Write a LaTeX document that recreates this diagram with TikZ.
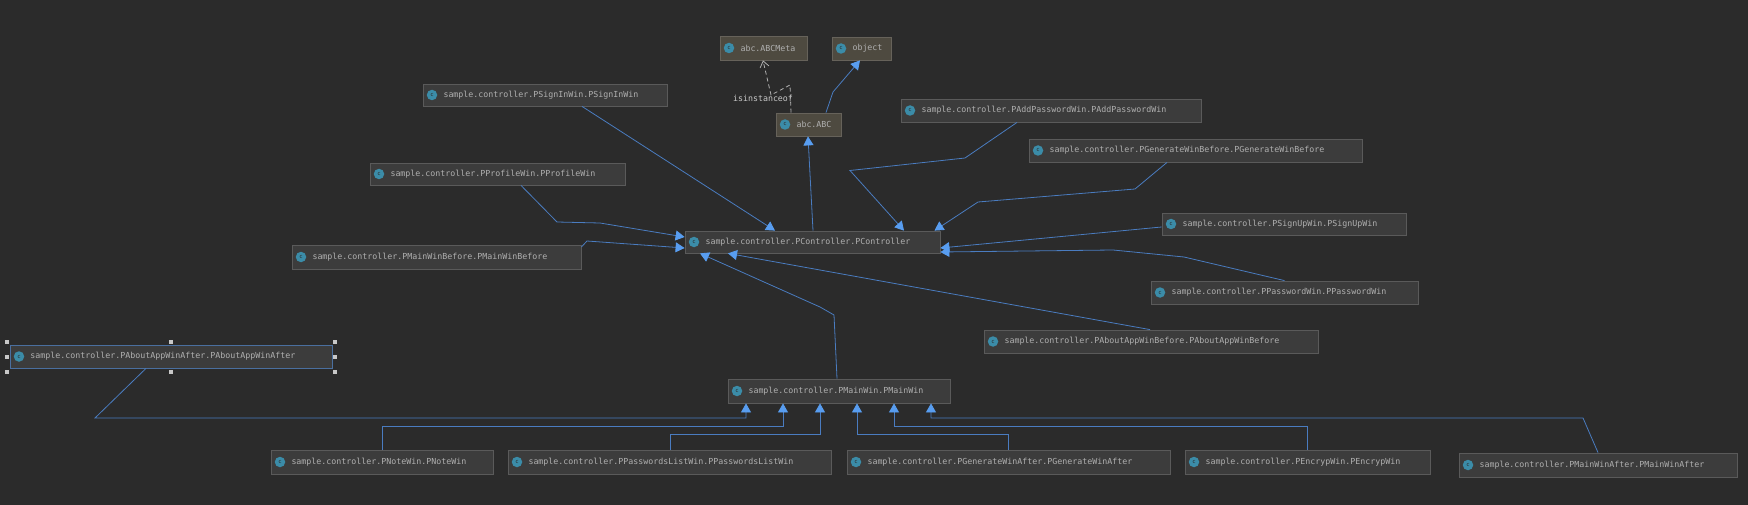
\documentclass[tikz,border=0pt]{standalone}
\usepackage{fontspec}
\setmonofont{DejaVu Sans Mono}
\usetikzlibrary{arrows.meta}
\definecolor{bg}{HTML}{2B2B2B}
\definecolor{boxfill}{HTML}{3C3C3C}
\definecolor{boxline}{HTML}{5A5A5A}
\definecolor{abcfill}{HTML}{4E4A40}
\definecolor{abcline}{HTML}{66625A}
\definecolor{seline}{HTML}{4A6F9F}
\definecolor{edgeblue}{HTML}{4A7CC0}
\definecolor{tipblue}{HTML}{589DF0}
\definecolor{txt}{HTML}{B0B0B0}
\definecolor{icon}{HTML}{3B8CA8}
\definecolor{handle}{HTML}{C8C8C8}
\tikzset{
  x=1pt,y=-1pt,
  cls/.style={rectangle,draw=boxline,fill=boxfill,line width=.8pt,inner sep=0pt,text=txt,font=\ttfamily\fontsize{8.3}{10}\selectfont},
  abcbox/.style={cls,draw=abcline,fill=abcfill},
  selbox/.style={cls,draw=seline},
  iconc/.style={circle,fill=icon,inner sep=0pt,minimum size=10.5pt,text=bg,font=\ttfamily\fontsize{5.5}{6}\selectfont},
  inh/.style={draw=edgeblue,line width=.8pt,-{Triangle[length=9pt,width=10pt,color=tipblue]}},
  inst/.style={draw=txt,line width=.8pt,dash pattern=on 4pt off 3pt,-{Straight Barb[length=6pt,width=9pt]}},
  hnd/.style={rectangle,fill=handle,inner sep=0pt,minimum size=4.5pt},
  lbl/.style={text=handle,inner sep=0pt,font=\ttfamily\fontsize{8.3}{10}\selectfont}
}
% name, style, x1, y1, x2, y2, text
\newcommand{\klass}[7]{%
  \pgfmathsetmacro{\bw}{#5-#3}\pgfmathsetmacro{\bh}{#6-#4}%
  \pgfmathsetmacro{\bcx}{(#3+#5)/2}\pgfmathsetmacro{\bcy}{(#4+#6)/2}%
  \pgfmathsetmacro{\icx}{#3+9}%
  \node[#2,minimum width=\bw pt,minimum height=\bh pt,text width=\bw pt,align=left] (#1) at (\bcx,\bcy) {\hspace*{20.5pt}\raisebox{-.5pt}{#7}};
  \node[iconc] (#1i) at (\icx,\bcy) {c};
}
\begin{document}
\begin{tikzpicture}
\useasboundingbox[fill=bg] (0,0) rectangle (1748,505);
\klass{meta}{abcbox}{720}{36}{807}{60}{abc.ABCMeta}
\klass{object}{abcbox}{832}{37}{891}{60}{object}
\klass{abc}{abcbox}{776}{113}{841}{136}{abc.ABC}
\klass{signin}{cls}{423}{84}{667}{106}{sample.controller.PSignInWin.PSignInWin}
\klass{profile}{cls}{370}{163}{625}{185}{sample.controller.PProfileWin.PProfileWin}
\klass{mainbefore}{cls}{292}{245}{581}{269}{sample.controller.PMainWinBefore.PMainWinBefore}
\klass{ctrl}{cls}{685}{231}{940}{253}{sample.controller.PController.PController}
\klass{addpw}{cls}{901}{99}{1201}{122}{sample.controller.PAddPasswordWin.PAddPasswordWin}
\klass{genbefore}{cls}{1029}{139}{1362}{162}{sample.controller.PGenerateWinBefore.PGenerateWinBefore}
\klass{signup}{cls}{1162}{213}{1406}{235}{sample.controller.PSignUpWin.PSignUpWin}
\klass{pw}{cls}{1151}{281}{1418}{304}{sample.controller.PPasswordWin.PPasswordWin}
\klass{aboutbefore}{cls}{984}{330}{1318}{353}{sample.controller.PAboutAppWinBefore.PAboutAppWinBefore}
\klass{aboutafter}{selbox}{10}{345}{332}{368}{sample.controller.PAboutAppWinAfter.PAboutAppWinAfter}
\klass{main}{cls}{728}{379}{950}{403}{sample.controller.PMainWin.PMainWin}
\klass{note}{cls}{271}{450}{493}{474}{sample.controller.PNoteWin.PNoteWin}
\klass{pwlist}{cls}{508}{450}{831}{474}{sample.controller.PPasswordsListWin.PPasswordsListWin}
\klass{genafter}{cls}{847}{450}{1170}{474}{sample.controller.PGenerateWinAfter.PGenerateWinAfter}
\klass{encryp}{cls}{1185}{450}{1430}{474}{sample.controller.PEncrypWin.PEncrypWin}
\klass{mainafter}{cls}{1459}{453}{1737}{477}{sample.controller.PMainWinAfter.PMainWinAfter}
% selection handles
\foreach \n/\px/\py in {h1/7/342,h2/171/342,h3/335/342,h4/7/357,h5/335/357,h6/7/372,h7/171/372,h8/335/372}
  \node[hnd] (\n) at (\px,\py) {};
% instance label
\node[lbl] (isinst) at (763,98) {isinstanceof};
\draw[inh] ([xshift=37pt]signin.south) -- ([xshift=-37.5pt]ctrl.north);
\draw[inh] ([xshift=23.5pt]profile.south) -- (557,222) -- (600,223) -- ([yshift=5pt]ctrl.west);
\draw[inh] ([yshift=10pt]mainbefore.east) -- (587,241) -- ([yshift=-6pt]ctrl.west);
\draw[inh] ([xshift=-34pt]addpw.south) -- (965,158) -- (850,170.5) -- ([xshift=91.5pt]ctrl.north);
\draw[inh] ([xshift=-28.5pt]genbefore.south) -- (1135,189) -- (978,202) -- ([xshift=122pt]ctrl.north);
\draw[inh] ([yshift=-3pt]signup.west) -- ([yshift=-6pt]ctrl.east);
\draw[inh] ([xshift=0pt]pw.north) -- (1184,257) -- (1113,250) -- ([yshift=-10pt]ctrl.east);
\draw[inh] ([xshift=-1pt]aboutbefore.north) -- ([xshift=-84.5pt]ctrl.south);
\draw[inh] ([xshift=-2pt]main.north) -- (834,315) -- (820,307) -- ([xshift=-112.5pt]ctrl.south);
\draw[inh] ([xshift=0.5pt]ctrl.north) -- ([xshift=-0.5pt]abc.south);
\draw[inh] ([xshift=17.5pt]abc.north) -- (833,92) -- ([xshift=-1.5pt]object.south);
\draw[inst] ([xshift=-17.5pt]abc.north) -- (790,85) -- (771,95) -- ([xshift=-0.5pt]meta.south);
\draw[inh] ([xshift=-25pt]aboutafter.south) -- (95,418) -- (746,418) -- ([xshift=-93pt]main.south);
\draw[inh] (note.north) -- (382,426) -- (783,426) -- ([xshift=-56pt]main.south);
\draw[inh] ([xshift=0.5pt]pwlist.north) -- (670,434) -- (820,434) -- ([xshift=-19pt]main.south);
\draw[inh] ([xshift=-0.5pt]genafter.north) -- (1008,434) -- (857,434) -- ([xshift=18pt]main.south);
\draw[inh] ([xshift=-0.5pt]encryp.north) -- (1307,426) -- (894,426) -- ([xshift=55pt]main.south);
\draw[inh] (mainafter.north) -- (1583,418) -- (931,418) -- ([xshift=92pt]main.south);
\end{tikzpicture}
\end{document}
